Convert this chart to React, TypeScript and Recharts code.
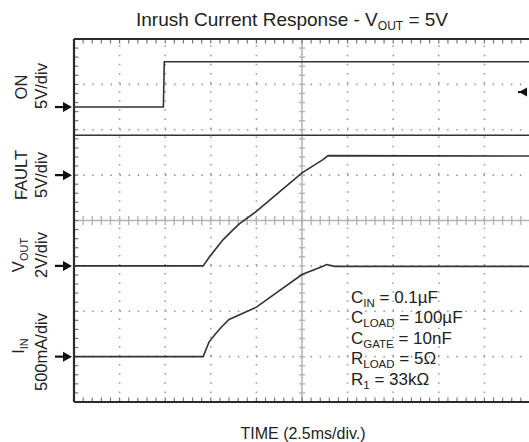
import React from "react";
import { LineChart, Line, XAxis, YAxis, ReferenceLine, ReferenceDot } from "recharts";

// time in ms (2.5 ms/div), level in each channel's own unit
const onTrace: [number, number][] = [
  [0, 0], [4.9, 0], [4.95, 5], [25, 5],
];
const faultTrace: [number, number][] = [
  [0, 4.4], [25, 4.4],
];
const voutTrace: [number, number][] = [
  [0, 0], [7.08, 0], [7.45, 0.42], [8.18, 1.16], [8.73, 1.6], [9.08, 1.86],
  [10.0, 2.4], [10.55, 2.78], [12.5, 4.1], [13.65, 4.68], [13.93, 4.86], [25, 4.84],
];
const iinTrace: [number, number][] = [
  [0, 0], [7.08, 0], [7.4, 160], [7.75, 250], [8.1, 330], [8.5, 410], [10.0, 545],
  [12.5, 905], [13.65, 995], [13.85, 1015], [14.3, 995], [25, 995],
];

// channel settings: volts (or mA) per div and ground marker position in divs
const channelNames = ["ON", "FAULT", "VOUT", "IIN"];
const channelScales = [5, 5, 2, 500];
const channelOffsets = [6.5, 5, 3, 1];
const onTrigger = 1.65;

const traces = [onTrace, faultTrace, voutTrace, iinTrace];

const xMajor = [2.5, 5, 7.5, 10, 15, 17.5, 20, 22.5, 25];
const yMajor = [1, 2, 3, 5, 6, 7];
const xMinor = Array.from({ length: 51 }, (_, i) => i * 0.5);
const yMinor = Array.from({ length: 41 }, (_, i) => i * 0.2);

const FONT = "'Liberation Sans', Arial, sans-serif";
const TRACE = "#333";
const DOT = "#9a9a9a";
const CENTER = "#b4b4b4";
const BORDER = "#2a2a2a";

const toDivs = (pts: [number, number][], k: number) =>
  pts.map(([t, v]) => ({ t, y: channelOffsets[k] + v / channelScales[k] }));

const GroundArrow = (props: any) => {
  const { cx, cy } = props;
  return (
    <g>
      <line x1={cx - 19} y1={cy} x2={cx - 8} y2={cy} stroke="#111" strokeWidth={2.2} />
      <polygon points={`${cx - 2},${cy} ${cx - 11},${cy - 5} ${cx - 11},${cy + 5}`} fill="#111" />
    </g>
  );
};

const TriggerArrow = (props: any) => {
  const { cx, cy } = props;
  return (
    <g>
      <line x1={cx - 4} y1={cy} x2={cx - 12} y2={cy} stroke="#111" strokeWidth={2} />
      <polygon points={`${cx - 11},${cy} ${cx - 3},${cy - 4.5} ${cx - 3},${cy + 4.5}`} fill="#111" />
    </g>
  );
};

// main text, subscript, then the rest of the line back on the baseline
const SubText = ({ main, sub, rest, size, drop }: any) => (
  <>
    {main}
    <tspan dy={drop} fontSize={size}>{sub}</tspan>
    {rest ? <tspan dy={-drop}>{rest}</tspan> : null}
  </>
);

export default function App() {
  return (
    <div style={{ position: "absolute", left: 0, top: 0, width: 529, height: 442, overflow: "hidden", background: "#fff" }}>
      <LineChart width={545} height={442} margin={{ top: 39, right: 15, bottom: 40, left: 74 }}>
        <XAxis type="number" dataKey="t" domain={[0, 25]} hide allowDataOverflow />
        <YAxis type="number" domain={[0, 8]} hide allowDataOverflow />

        {xMajor.map((x) => (
          <ReferenceLine key={`vx${x}`} x={x} stroke={DOT} strokeWidth={1.6} strokeDasharray="1.5 7.6" />
        ))}
        {yMajor.map((y) => (
          <ReferenceLine key={`hy${y}`} y={y} stroke={DOT} strokeWidth={1.6} strokeDasharray="1.5 7.6" />
        ))}
        <ReferenceLine x={12.5} stroke={CENTER} strokeWidth={1.6} />
        <ReferenceLine y={4} stroke={CENTER} strokeWidth={1.6} />

        {xMinor.map((x) => (
          <ReferenceLine key={`ct${x}`} segment={[{ x, y: 3.9 }, { x, y: 4.1 }]} stroke={CENTER} strokeWidth={1.4} />
        ))}
        {yMinor.map((y) => (
          <ReferenceLine key={`cv${y}`} segment={[{ x: 12.33, y }, { x: 12.67, y }]} stroke={CENTER} strokeWidth={1.4} />
        ))}
        {xMinor.map((x) => (
          <ReferenceLine key={`tt${x}`} segment={[{ x, y: 8 }, { x, y: 7.9 }]} stroke="#777" strokeWidth={1.2} />
        ))}
        {xMinor.map((x) => (
          <ReferenceLine key={`bt${x}`} segment={[{ x, y: 0 }, { x, y: 0.1 }]} stroke="#777" strokeWidth={1.2} />
        ))}
        {yMinor.map((y) => (
          <ReferenceLine key={`lt${y}`} segment={[{ x: 0, y }, { x: 0.24, y }]} stroke="#777" strokeWidth={1.2} />
        ))}

        <ReferenceLine y={8} stroke={BORDER} strokeWidth={2.2} />
        <ReferenceLine y={0} stroke={BORDER} strokeWidth={2.2} />
        <ReferenceLine x={0} stroke={BORDER} strokeWidth={2.2} />

        {traces.map((pts, k) => (
          <Line
            key={channelNames[k]}
            data={toDivs(pts, k)}
            dataKey="y"
            type="linear"
            stroke={TRACE}
            strokeWidth={1.6}
            dot={false}
            isAnimationActive={false}
          />
        ))}

        {channelOffsets.map((o, k) => (
          <ReferenceDot key={`g${k}`} x={0} y={o} r={0} ifOverflow="visible" shape={GroundArrow} />
        ))}
        <ReferenceDot
          x={25}
          y={channelOffsets[0] + onTrigger / channelScales[0]}
          r={0}
          ifOverflow="visible"
          shape={TriggerArrow}
        />
      </LineChart>

      <svg width={529} height={442} style={{ position: "absolute", left: 0, top: 0, pointerEvents: "none" }}>
        <g fontFamily={FONT} fill="#222">
          <text x={292} y={26} fontSize={19} textAnchor="middle">
            <SubText main="Inrush Current Response -  V" sub="OUT" rest=" = 5V" size={12} drop={4} />
          </text>

          <g fontSize={16.5} textAnchor="middle">
            <text transform="translate(27,87) rotate(-90)">ON</text>
            <text transform="translate(47,86) rotate(-90)">5V/div</text>
            <text transform="translate(27,175) rotate(-90)">FAULT</text>
            <text transform="translate(47,175) rotate(-90)">5V/div</text>
            <text transform="translate(24,255) rotate(-90)">
              <SubText main="V" sub="OUT" size={11} drop={4} />
            </text>
            <text transform="translate(47,255) rotate(-90)">2V/div</text>
            <text transform="translate(24,346) rotate(-90)">
              <SubText main="I" sub="IN" size={11} drop={4} />
            </text>
            <text transform="translate(47,352) rotate(-90)">500mA/div</text>
          </g>

          <g fontSize={17}>
            <text x={351} y={303}><SubText main="C" sub="IN" rest=" = 0.1µF" size={11.5} drop={4} /></text>
            <text x={351} y={323}><SubText main="C" sub="LOAD" rest=" = 100µF" size={11.5} drop={4} /></text>
            <text x={351} y={343.5}><SubText main="C" sub="GATE" rest=" = 10nF" size={11.5} drop={4} /></text>
            <text x={351} y={364}><SubText main="R" sub="LOAD" rest=" = 5Ω" size={11.5} drop={4} /></text>
            <text x={351} y={384.5}><SubText main="R" sub="1" rest=" = 33kΩ" size={11.5} drop={4} /></text>
          </g>

          <text x={303} y={439} fontSize={16} textAnchor="middle">TIME (2.5ms/div.)</text>
        </g>
      </svg>
    </div>
  );
}
